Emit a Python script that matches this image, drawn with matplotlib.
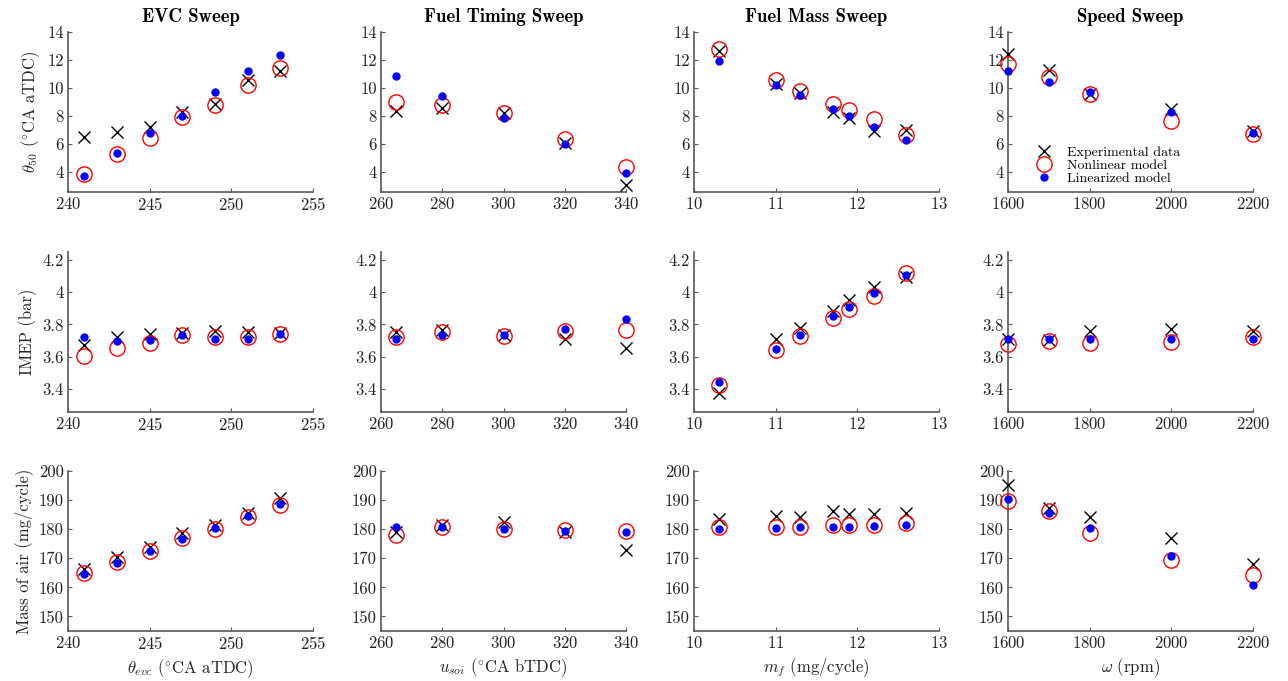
import matplotlib
matplotlib.use("Agg")
from matplotlib import pyplot as plt

plt.rcParams['font.family'] = ['cmr10', 'DejaVu Serif']
plt.rcParams['mathtext.fontset'] = 'cm'
plt.rcParams['axes.formatter.use_mathtext'] = True

# sweep variables (x values of each column)
evc = [241, 243, 245, 247, 249, 251, 253]
soi = [265, 280, 300, 320, 340]
mf = [10.3, 11.0, 11.3, 11.7, 11.9, 12.2, 12.6]
speed = [1600, 1700, 1800, 2000, 2200]

# theta50 (deg CA aTDC)
th_exp_evc = [6.49, 6.87, 7.23, 8.3, 8.83, 10.58, 11.2]
th_nl_evc = [3.83, 5.32, 6.44, 7.92, 8.76, 10.22, 11.46]
th_lin_evc = [3.69, 5.39, 6.82, 8.02, 9.72, 11.18, 12.37]
th_exp_soi = [8.35, 8.55, 8.19, 6.08, 3.04]
th_nl_soi = [8.98, 8.78, 8.23, 6.34, 4.36]
th_lin_soi = [10.84, 9.45, 7.88, 6.01, 3.93]
th_exp_mf = [12.61, 10.27, 9.62, 8.26, 7.88, 6.94, 6.99]
th_nl_mf = [12.78, 10.58, 9.79, 8.86, 8.43, 7.78, 6.63]
th_lin_mf = [11.94, 10.2, 9.5, 8.47, 8.0, 7.23, 6.27]
th_exp_spd = [12.42, 11.25, 9.55, 8.5, 6.94]
th_nl_spd = [11.7, 10.75, 9.57, 7.64, 6.68]
th_lin_spd = [11.18, 10.46, 9.72, 8.26, 6.82]

# IMEP (bar)
im_exp_evc = [3.67, 3.72, 3.74, 3.745, 3.76, 3.75, 3.745]
im_nl_evc = [3.605, 3.653, 3.684, 3.734, 3.724, 3.724, 3.743]
im_lin_evc = [3.724, 3.697, 3.701, 3.732, 3.707, 3.707, 3.738]
im_exp_soi = [3.751, 3.766, 3.734, 3.709, 3.651]
im_nl_soi = [3.724, 3.751, 3.728, 3.761, 3.766]
im_lin_soi = [3.711, 3.736, 3.734, 3.772, 3.834]
im_exp_mf = [3.371, 3.709, 3.776, 3.88, 3.949, 4.033, 4.096]
im_nl_mf = [3.423, 3.64, 3.728, 3.839, 3.893, 3.974, 4.12]
im_lin_mf = [3.444, 3.649, 3.734, 3.851, 3.908, 3.995, 4.11]
im_exp_spd = [3.709, 3.705, 3.761, 3.772, 3.761]
im_nl_spd = [3.678, 3.695, 3.686, 3.692, 3.72]
im_lin_spd = [3.707, 3.707, 3.707, 3.707, 3.707]

# mass of air (mg/cycle)
ma_exp_evc = [166.2, 170.6, 173.9, 178.7, 181.3, 185.7, 190.7]
ma_nl_evc = [165.0, 168.6, 172.5, 176.9, 180.0, 184.3, 188.4]
ma_lin_evc = [164.6, 168.3, 172.6, 176.7, 180.5, 184.6, 188.8]
ma_exp_soi = [179.0, 181.3, 182.5, 179.2, 173.0]
ma_nl_soi = [178.1, 180.8, 179.9, 179.8, 179.5]
ma_lin_soi = [180.8, 180.6, 179.9, 179.4, 179.1]
ma_exp_mf = [183.4, 184.5, 184.3, 186.2, 185.3, 185.3, 185.6]
ma_nl_mf = [180.8, 180.8, 180.8, 181.3, 181.3, 181.5, 182.1]
ma_lin_mf = [179.9, 180.4, 180.6, 180.8, 180.8, 181.1, 181.4]
ma_exp_spd = [195.2, 187.3, 184.2, 176.9, 168.1]
ma_nl_spd = [189.7, 186.2, 178.8, 169.5, 164.1]
ma_lin_spd = [190.3, 185.4, 180.5, 170.8, 160.9]

titles = ['EVC Sweep', 'Fuel Timing Sweep', 'Fuel Mass Sweep', 'Speed Sweep']
xlabels = [r'$\theta_{evc}$ $(^{\circ}$CA aTDC)', r'$u_{soi}$ $(^{\circ}$CA bTDC)',
           r'$m_f$ (mg/cycle)', r'$\omega$ (rpm)']
ylabels = [r'$\theta_{50}$ $(^{\circ}$CA aTDC)', 'IMEP (bar)', 'Mass of air (mg/cycle)']
xs = [evc, soi, mf, speed]
xlims = [(240, 255), (260, 340), (10, 13), (1600, 2200)]
xticks = [[240, 245, 250, 255], [260, 280, 300, 320, 340], [10, 11, 12, 13],
          [1600, 1800, 2000, 2200]]
ylims = [(2.57, 14), (3.255, 4.25), (145, 200)]
yticks = [[4, 6, 8, 10, 12, 14], [3.4, 3.6, 3.8, 4.0, 4.2], [150, 160, 170, 180, 190, 200]]
ytlabels = [['4', '6', '8', '10', '12', '14'], ['3.4', '3.6', '3.8', '4', '4.2'],
            ['150', '160', '170', '180', '190', '200']]

data = [
    [(th_exp_evc, th_nl_evc, th_lin_evc), (th_exp_soi, th_nl_soi, th_lin_soi),
     (th_exp_mf, th_nl_mf, th_lin_mf), (th_exp_spd, th_nl_spd, th_lin_spd)],
    [(im_exp_evc, im_nl_evc, im_lin_evc), (im_exp_soi, im_nl_soi, im_lin_soi),
     (im_exp_mf, im_nl_mf, im_lin_mf), (im_exp_spd, im_nl_spd, im_lin_spd)],
    [(ma_exp_evc, ma_nl_evc, ma_lin_evc), (ma_exp_soi, ma_nl_soi, ma_lin_soi),
     (ma_exp_mf, ma_nl_mf, ma_lin_mf), (ma_exp_spd, ma_nl_spd, ma_lin_spd)],
]

W, H = 1288, 681
fig = plt.figure(figsize=(W / 100, H / 100), dpi=100)
lefts = [68, 381, 694, 1008]
tops = [32, 252, 471]
aw, ah = 245, 160

for r in range(3):
    for c in range(4):
        ax = fig.add_axes([lefts[c] / W, 1 - (tops[r] + ah) / H, aw / W, ah / H])
        exp_, nl, lin = data[r][c]
        x = xs[c]
        ax.plot(x, exp_, 'x', color='black', ms=9, mew=1.0, clip_on=False,
                label='Experimental data', zorder=3)
        ax.plot(x, nl, 'o', mfc='none', mec='red', ms=11, mew=1.0, clip_on=False,
                label='Nonlinear model', zorder=3)
        ax.plot(x, lin, 'o', color='blue', ms=5, clip_on=False,
                label='Linearized model', zorder=4)
        ax.set_xlim(xlims[c])
        ax.set_ylim(ylims[r])
        ax.set_xticks(xticks[c])
        ax.set_yticks(yticks[r])
        ax.set_yticklabels(ytlabels[r])
        for s in ['top', 'right']:
            ax.spines[s].set_visible(False)
        for s in ['left', 'bottom']:
            ax.spines[s].set_color('0.35')
            ax.spines[s].set_linewidth(1.2)
        ax.tick_params(direction='in', length=3, width=0.8, color='0.35',
                       labelsize=12, pad=3, labelcolor='#222222')
        if r == 0:
            ax.set_title(titles[c], fontsize=13.5, fontfamily='cmb10', pad=7)
        if r == 2:
            ax.set_xlabel(xlabels[c], fontsize=12, color='#222222')
        if c == 0:
            ax.set_ylabel(ylabels[r], fontsize=12, color='#222222')
        if r == 0 and c == 3:
            ax.legend(loc='center left', bbox_to_anchor=(0.075, 0.165), frameon=False,
                      fontsize=10, labelspacing=0.0, handletextpad=0.9,
                      handlelength=1.5, borderpad=0)

fig.savefig('out.png', dpi=100)
